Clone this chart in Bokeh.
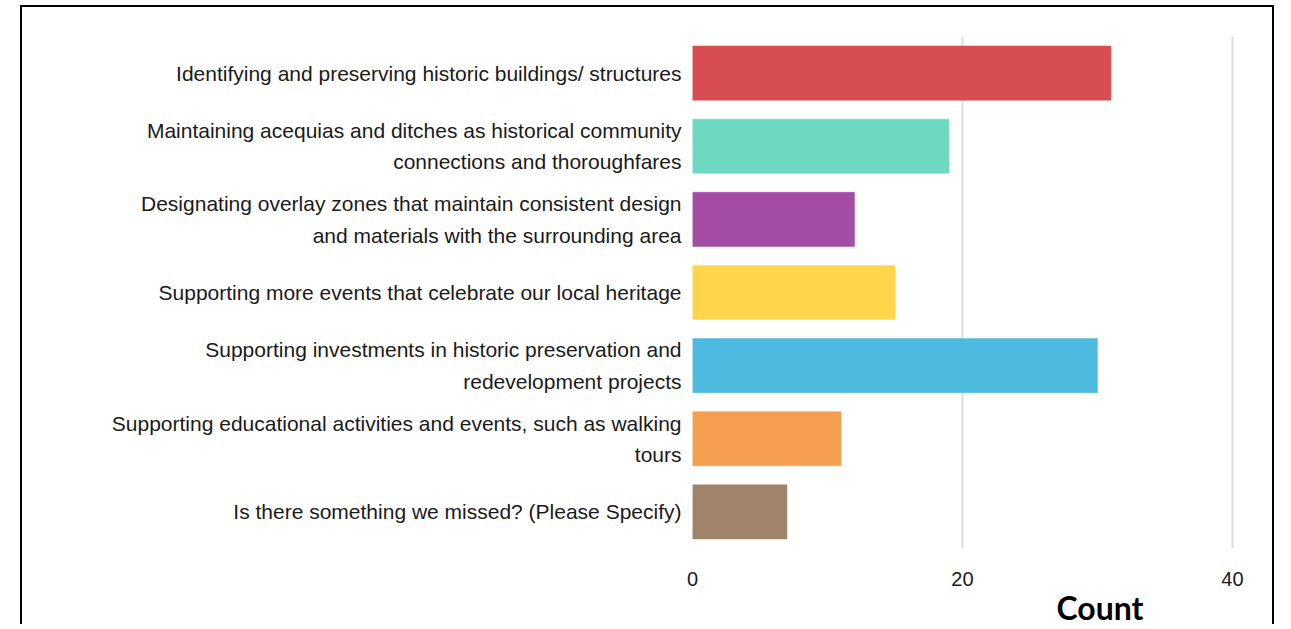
from bokeh.plotting import figure
from bokeh.models import ColumnDataSource, FactorRange, Title, FixedTicker
from bokeh.embed import file_html
from bokeh.resources import INLINE

categories = [
    "Identifying and preserving historic buildings/ structures",
    "Maintaining acequias and ditches as historical community\nconnections and thoroughfares",
    "Designating overlay zones that maintain consistent design\nand materials with the surrounding area",
    "Supporting more events that celebrate our local heritage",
    "Supporting investments in historic preservation and\nredevelopment projects",
    "Supporting educational activities and events, such as walking\ntours",
    "Is there something we missed? (Please Specify)",
]
counts = [31, 19, 12, 15, 30, 11, 7]
colors = ["#D84D50", "#6ED8C0", "#A54CA5", "#FFD54B", "#4DBAE0", "#F5A050", "#A0836A"]
x_ticks = [0, 20, 40]
x_label = "Count"

FONT = "Liberation Sans"

src = ColumnDataSource(dict(cat=categories, count=counts, color=colors))

p = figure(
    width=1254, height=619,
    y_range=FactorRange(factors=list(reversed(categories))),
    x_range=(0, 40.6),
    output_backend="svg", toolbar_location=None,
    min_border_left=670, min_border_right=36, min_border_top=29, min_border_bottom=78,
)
p.margin = (5, 0, 0, 20)
p.styles = {"border-top": "2px solid black", "border-left": "2px solid black",
            "border-right": "2px solid black"}

p.hbar(y="cat", right="count", left=0, height=0.74, source=src,
       fill_color="color", line_color="color", fill_alpha=1.0, line_alpha=0.5)

p.outline_line_color = None
p.ygrid.grid_line_color = None
p.xgrid.grid_line_color = "#dddddd"
p.xgrid.grid_line_width = 2

p.xaxis.ticker = FixedTicker(ticks=x_ticks)
p.xaxis.axis_line_color = None
p.xaxis.major_tick_line_color = None
p.xaxis.minor_tick_line_color = None
p.xaxis.major_label_text_font = FONT
p.xaxis.major_label_text_font_size = "20px"
p.xaxis.major_label_text_color = "#1a1a1a"
p.xaxis.major_label_standoff = 17

p.yaxis.axis_line_color = None
p.yaxis.major_tick_line_color = None
p.yaxis.minor_tick_line_color = None
p.yaxis.major_label_text_font = FONT
p.yaxis.major_label_text_font_size = "21px"
p.yaxis.major_label_text_color = "#1a1a1a"
p.yaxis.major_label_text_line_height = 1.37
p.yaxis.major_label_standoff = 5

p.add_layout(Title(text=x_label, align="left", offset=364, text_font="Lato",
                   text_font_style="bold", text_font_size="32px",
                   text_line_height=1.0, text_color="#000000", standoff=-6), "below")

open("out.html", "w").write(file_html(p, INLINE))
